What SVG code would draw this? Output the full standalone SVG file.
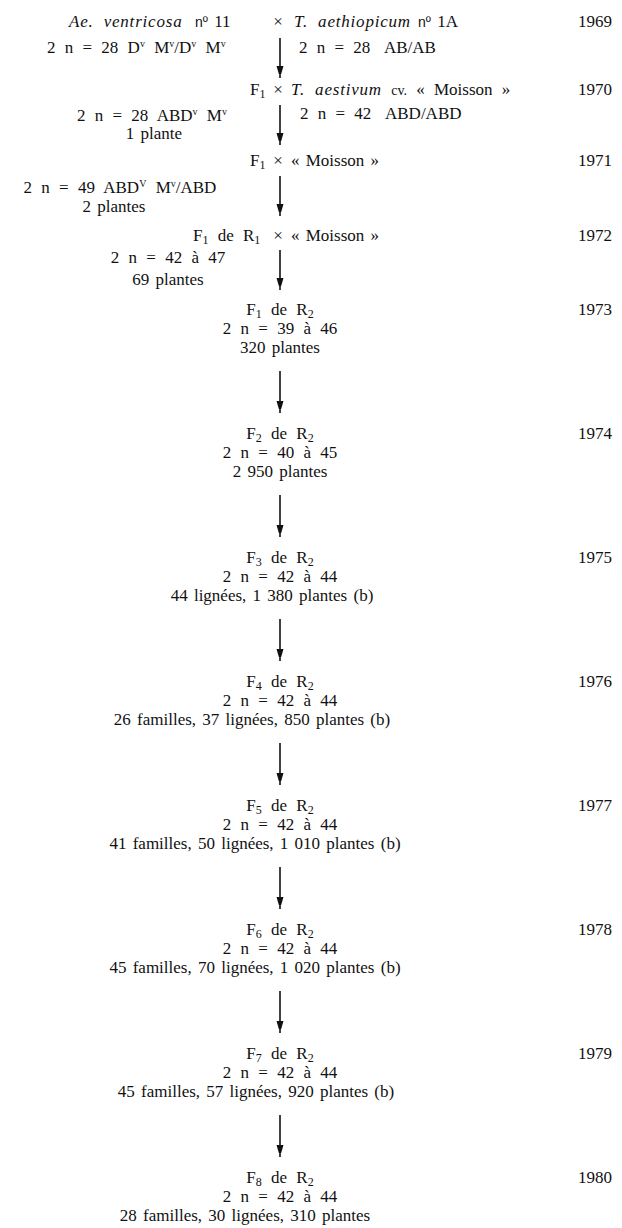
<svg xmlns="http://www.w3.org/2000/svg" width="622" height="1228" viewBox="0 0 622 1228">
<style>
text{font-family:"Liberation Serif","Times New Roman",serif;font-size:17px;fill:#111;word-spacing:2px;}
.c{text-anchor:middle}
.i{font-style:italic;letter-spacing:0.8px}
.s{font-size:12px}
.u{font-size:10px}
.o{font-family:"Liberation Sans",Arial,sans-serif;font-size:14px}
.w{word-spacing:5px}
.a{stroke:#111;stroke-width:1.6;fill:none}
</style>
<defs>
<marker id="ah" markerUnits="userSpaceOnUse" markerWidth="8" markerHeight="13" refX="12" refY="3.5" orient="auto">
<path d="M0,0 L12,3.5 L0,7 z" fill="#111"/>
</marker>
</defs>
<g id="connectors">
<line class="a" x1="280" y1="38" x2="280" y2="78" marker-end="url(#ah)"/>
<line class="a" x1="280" y1="105" x2="280" y2="145" marker-end="url(#ah)"/>
<line class="a" x1="280" y1="176" x2="280" y2="216" marker-end="url(#ah)"/>
<line class="a" x1="280" y1="250" x2="280" y2="290" marker-end="url(#ah)"/>
<line class="a" x1="280" y1="371" x2="280" y2="413" marker-end="url(#ah)"/>
<line class="a" x1="280" y1="495" x2="280" y2="537" marker-end="url(#ah)"/>
<line class="a" x1="280" y1="619" x2="280" y2="661" marker-end="url(#ah)"/>
<line class="a" x1="280" y1="743" x2="280" y2="785" marker-end="url(#ah)"/>
<line class="a" x1="280" y1="867" x2="280" y2="909" marker-end="url(#ah)"/>
<line class="a" x1="280" y1="991" x2="280" y2="1033" marker-end="url(#ah)"/>
<line class="a" x1="280" y1="1115" x2="280" y2="1157" marker-end="url(#ah)"/>
</g>
<g id="cross1">
<text x="69" y="27" class="w"><tspan class="i">Ae. ventricosa</tspan></text>
<text x="195" y="27"><tspan class="o">nº</tspan> 11</text>
<text class="c" x="278" y="27">×</text>
<text x="294" y="27" class="w"><tspan class="i">T. aethiopicum</tspan></text>
<text x="418" y="27"><tspan class="o">nº</tspan> 1A</text>
<text x="578" y="27">1969</text>
<text x="47" y="53" class="w">2 n = 28 D<tspan class="u" baseline-shift="6">v</tspan> M<tspan class="u" baseline-shift="6">v</tspan>/D<tspan class="u" baseline-shift="6">v</tspan> M<tspan class="u" baseline-shift="6">v</tspan></text>
<text x="299" y="53" class="w">2 n = 28</text>
<text x="384" y="53">AB/AB</text>
</g>
<g id="cross2">
<text x="250" y="95">F<tspan class="s" baseline-shift="-3">1</tspan></text>
<text class="c" x="278" y="95">×</text>
<text x="291" y="95" class="w"><tspan class="i">T. aestivum</tspan> <tspan font-size="14">cv.</tspan> « Moisson »</text>
<text x="578" y="95">1970</text>
<text class="c w" x="152" y="121">2 n = 28 ABD<tspan class="u" baseline-shift="6">v</tspan> M<tspan class="u" baseline-shift="6">v</tspan></text>
<text class="c" x="154" y="139">1 plante</text>
<text x="300" y="119" class="w">2 n = 42</text>
<text x="385" y="119">ABD/ABD</text>
</g>
<g id="cross3">
<text x="250" y="166">F<tspan class="s" baseline-shift="-3">1</tspan></text>
<text class="c" x="278" y="166">×</text>
<text x="291" y="166">« Moisson »</text>
<text x="578" y="166">1971</text>
<text class="c w" x="120" y="193">2 n = 49  ABD<tspan class="u" baseline-shift="6">V</tspan> M<tspan class="u" baseline-shift="6">v</tspan>/ABD</text>
<text class="c" x="114" y="212">2 plantes</text>
</g>
<g id="cross4">
<text x="193" y="241" class="w">F<tspan class="s" baseline-shift="-3">1</tspan> de R<tspan class="s" baseline-shift="-3">1</tspan></text>
<text class="c" x="278" y="241">×</text>
<text x="291" y="241">« Moisson »</text>
<text x="578" y="241">1972</text>
<text class="c w" x="168" y="263">2 n = 42 à 47</text>
<text class="c" x="168" y="285">69 plantes</text>
</g>
<g id="gen1">
<text class="c w" x="280" y="315">F<tspan class="s" baseline-shift="-3">1</tspan> de R<tspan class="s" baseline-shift="-3">2</tspan></text>
<text class="c w" x="280" y="334">2 n = 39 à 46</text>
<text class="c" x="280" y="353">320 plantes</text>
<text x="578" y="315">1973</text>
</g>
<g id="gen2">
<text class="c w" x="280" y="439">F<tspan class="s" baseline-shift="-3">2</tspan> de R<tspan class="s" baseline-shift="-3">2</tspan></text>
<text class="c w" x="280" y="458">2 n = 40 à 45</text>
<text class="c" x="280" y="477">2 950 plantes</text>
<text x="578" y="439">1974</text>
</g>
<g id="gen3">
<text class="c w" x="280" y="563">F<tspan class="s" baseline-shift="-3">3</tspan> de R<tspan class="s" baseline-shift="-3">2</tspan></text>
<text class="c w" x="280" y="582">2 n = 42 à 44</text>
<text class="c" x="272" y="601">44 lignées, 1 380 plantes (b)</text>
<text x="578" y="563">1975</text>
</g>
<g id="gen4">
<text class="c w" x="280" y="687">F<tspan class="s" baseline-shift="-3">4</tspan> de R<tspan class="s" baseline-shift="-3">2</tspan></text>
<text class="c w" x="280" y="706">2 n = 42 à 44</text>
<text class="c" x="252" y="725">26 familles, 37 lignées, 850 plantes (b)</text>
<text x="578" y="687">1976</text>
</g>
<g id="gen5">
<text class="c w" x="280" y="811">F<tspan class="s" baseline-shift="-3">5</tspan> de R<tspan class="s" baseline-shift="-3">2</tspan></text>
<text class="c w" x="280" y="830">2 n = 42 à 44</text>
<text class="c" x="255" y="849">41 familles, 50 lignées, 1 010 plantes (b)</text>
<text x="578" y="811">1977</text>
</g>
<g id="gen6">
<text class="c w" x="280" y="935">F<tspan class="s" baseline-shift="-3">6</tspan> de R<tspan class="s" baseline-shift="-3">2</tspan></text>
<text class="c w" x="280" y="954">2 n = 42 à 44</text>
<text class="c" x="255" y="973">45 familles, 70 lignées, 1 020 plantes (b)</text>
<text x="578" y="935">1978</text>
</g>
<g id="gen7">
<text class="c w" x="280" y="1059">F<tspan class="s" baseline-shift="-3">7</tspan> de R<tspan class="s" baseline-shift="-3">2</tspan></text>
<text class="c w" x="280" y="1078">2 n = 42 à 44</text>
<text class="c" x="256" y="1097">45 familles, 57 lignées, 920 plantes (b)</text>
<text x="578" y="1059">1979</text>
</g>
<g id="gen8">
<text class="c w" x="280" y="1183">F<tspan class="s" baseline-shift="-3">8</tspan> de R<tspan class="s" baseline-shift="-3">2</tspan></text>
<text class="c w" x="280" y="1202">2 n = 42 à 44</text>
<text class="c" x="245" y="1221">28 familles, 30 lignées, 310 plantes</text>
<text x="578" y="1183">1980</text>
</g>
</svg>
